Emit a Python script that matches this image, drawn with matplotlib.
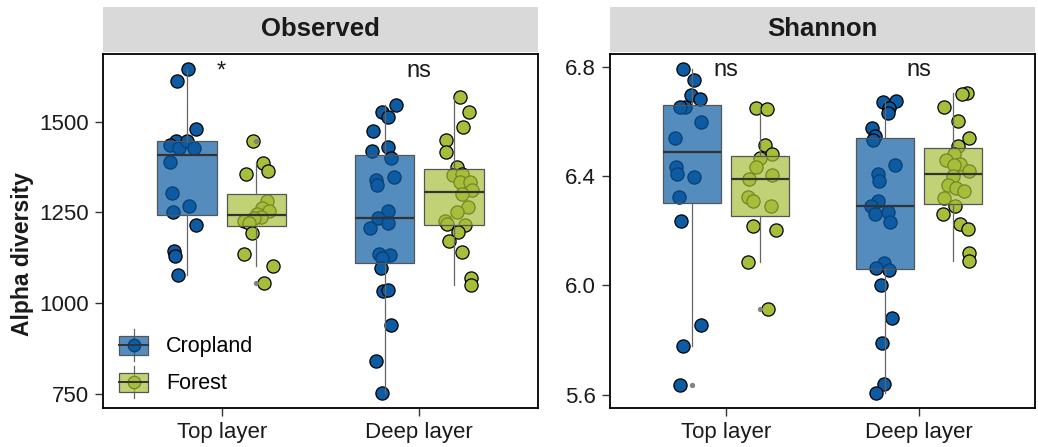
import numpy as np
import matplotlib.pyplot as plt
from matplotlib.colors import to_rgba
from matplotlib.lines import Line2D
from matplotlib.patches import Rectangle
from matplotlib.legend_handler import HandlerBase

plt.rcParams["font.family"] = ["Liberation Sans", "DejaVu Sans"]

LAYERS = ["Top layer", "Deep layer"]
LANDUSE = ["Cropland", "Forest"]
POINT_COL = {"Cropland": "#0d5ba3", "Forest": "#a6bf3a"}

# --- Observed richness; jitter = horizontal offset of each sample within its box
obs_crop_top = [1644, 1613, 1479, 1447, 1435, 1427, 1447, 1426, 1389, 1304,
                1268, 1252, 1215, 1144, 1131, 1078]
obs_crop_top_jit = [0.007, -0.049, 0.044, -0.056, -0.086, -0.040, -0.002, 0.037,
                    -0.086, -0.076, 0.010, -0.069, 0.044, -0.066, -0.061, -0.047]
obs_for_top = [1447, 1385, 1364, 1355, 1281, 1262, 1254, 1246, 1238, 1236,
               1227, 1220, 1194, 1135, 1104, 1055]
obs_for_top_jit = [-0.018, 0.034, 0.061, -0.053, 0.056, 0.030, 0.064, 0.002,
                   0.024, -0.011, -0.062, -0.035, -0.023, -0.060, 0.086, 0.041]
obs_crop_deep = [1547, 1526, 1513, 1474, 1429, 1418, 1400, 1347, 1339, 1325,
                 1254, 1236, 1220, 1208, 1135, 1133, 1124, 1097, 1035, 1038,
                 940, 841, 754]
obs_crop_deep_jit = [0.055, -0.016, 0.018, -0.061, 0.015, -0.066, 0.031, 0.048,
                     -0.046, -0.039, 0.015, -0.036, 0.015, -0.073, -0.029, 0.028,
                     -0.013, -0.019, -0.009, 0.018, 0.031, -0.046, -0.013]
obs_for_deep = [1569, 1526, 1486, 1449, 1416, 1374, 1352, 1355, 1334, 1334,
                1311, 1300, 1265, 1250, 1227, 1218, 1215, 1197, 1172, 1140,
                1070, 1050]
obs_for_deep_jit = [0.030, 0.074, 0.047, -0.040, -0.040, 0.014, -0.007, 0.039,
                    0.030, 0.081, 0.090, 0.042, 0.072, 0.014, -0.046, -0.037,
                    0.056, 0.019, -0.024, 0.042, 0.084, 0.084]

# --- Shannon index
sha_crop_top = [6.790, 6.750, 6.695, 6.680, 6.654, 6.652, 6.597, 6.540, 6.433,
                6.409, 6.396, 6.323, 6.234, 5.856, 5.777, 5.637]
sha_crop_top_jit = [-0.047, 0.010, -0.004, 0.040, -0.038, -0.064, 0.048, -0.086,
                    -0.084, -0.076, 0.010, -0.069, -0.058, 0.048, -0.047, -0.064]
sha_for_top = [6.650, 6.646, 6.514, 6.481, 6.467, 6.433, 6.402, 6.390, 6.323,
               6.308, 6.289, 6.219, 6.204, 6.085, 5.915]
sha_for_top_jit = [-0.018, 0.037, 0.025, 0.065, -0.001, -0.018, 0.065, -0.056,
                   -0.061, -0.035, 0.060, -0.035, 0.085, -0.061, 0.042]
sha_crop_deep = [6.670, 6.673, 6.650, 6.630, 6.577, 6.545, 6.530, 6.442, 6.408,
                 6.381, 6.308, 6.292, 6.268, 6.260, 6.231, 6.083, 6.063, 6.058,
                 6.003, 5.882, 5.790, 5.638, 5.606]
sha_crop_deep_jit = [-0.013, 0.056, 0.018, 0.013, -0.068, -0.054, -0.065, 0.048,
                     -0.039, -0.034, -0.039, -0.074, 0.013, -0.051, 0.022, -0.009,
                     -0.048, 0.018, -0.020, 0.034, -0.018, -0.009, -0.048]
sha_for_deep = [6.703, 6.698, 6.654, 6.600, 6.540, 6.510, 6.480, 6.460, 6.445,
                6.440, 6.418, 6.400, 6.366, 6.358, 6.345, 6.320, 6.290, 6.262,
                6.223, 6.205, 6.120, 6.088]
sha_for_deep_jit = [0.072, 0.045, -0.045, 0.027, 0.081, 0.026, 0.005, -0.036,
                    0.038, 0.005, 0.083, 0.000, -0.026, 0.016, 0.055, -0.047,
                    0.010, -0.053, 0.038, 0.076, 0.084, 0.081]

PANELS = [
    ("Observed",
     {("Top layer", "Cropland"): (obs_crop_top, obs_crop_top_jit),
      ("Top layer", "Forest"): (obs_for_top, obs_for_top_jit),
      ("Deep layer", "Cropland"): (obs_crop_deep, obs_crop_deep_jit),
      ("Deep layer", "Forest"): (obs_for_deep, obs_for_deep_jit)},
     [750, 1000, 1250, 1500], (712, 1686), ["*", "ns"], [1620, 1624]),
    ("Shannon",
     {("Top layer", "Cropland"): (sha_crop_top, sha_crop_top_jit),
      ("Top layer", "Forest"): (sha_for_top, sha_for_top_jit),
      ("Deep layer", "Cropland"): (sha_crop_deep, sha_crop_deep_jit),
      ("Deep layer", "Forest"): (sha_for_deep, sha_for_deep_jit)},
     [5.6, 6.0, 6.4, 6.8], (5.552, 6.846), ["ns", "ns"], [6.764, 6.764]),
]

DODGE = 0.175
BOX_W = 0.30
ALPHA = 0.7


class BoxKey(HandlerBase):
    """legend key that looks like a small boxplot with a point on it"""
    def __init__(self, pcol):
        super().__init__()
        self.pcol = pcol

    def create_artists(self, legend, orig, xd, yd, width, height, fontsize, trans):
        cx = -xd + width / 2
        cy = -yd + height / 2
        bh = height * 0.6
        wl = Line2D([cx, cx], [-yd, -yd + height], color="#666666", lw=0.9,
                    transform=trans)
        box = Rectangle((-xd, cy - bh / 2), width, bh, transform=trans,
                        facecolor=to_rgba(self.pcol, ALPHA), edgecolor="#555555",
                        lw=0.9)
        med = Line2D([-xd, -xd + width], [cy, cy], color="#333333", lw=1.4,
                     transform=trans)
        pt = Line2D([cx], [cy], marker="o", ms=9, mfc=self.pcol, mec="black",
                    mew=0.9, ls="none", transform=trans)
        return [wl, pt, box, med]


fig = plt.figure(figsize=(10.38, 4.47), dpi=100)
W, H = 1038, 447
frames = [(103, 538), (610, 1035)]
top_px, bot_px = 54, 408

for (title, groups, yticks, ylim, marks, mark_y), (x0, x1) in zip(PANELS, frames):
    ax = fig.add_axes([x0 / W, (H - bot_px) / H, (x1 - x0) / W, (bot_px - top_px) / H])
    strip = fig.add_axes([x0 / W, (H - 52) / H, (x1 - x0) / W, 45 / H])
    strip.set_facecolor("#d9d9d9")
    strip.set_xticks([]); strip.set_yticks([])
    for s in strip.spines.values():
        s.set_visible(False)
    strip.text(0.5, 0.5, title, ha="center", va="center", fontsize=18.5,
               fontweight="bold", color="#1a1a1a", transform=strip.transAxes)

    for i, layer in enumerate(LAYERS):
        for j, lu in enumerate(LANDUSE):
            vals, jit = groups[(layer, lu)]
            pos = i + 1 + (-DODGE if lu == "Cropland" else DODGE)
            ax.scatter(pos + np.array(jit), vals, s=90, color=POINT_COL[lu],
                       edgecolor="black", linewidth=0.9, zorder=2)
            ax.boxplot([vals], positions=[pos], widths=BOX_W, patch_artist=True,
                       whis=1.5, showcaps=False, manage_ticks=False, zorder=3,
                       boxprops=dict(facecolor=to_rgba(POINT_COL[lu], ALPHA),
                                     edgecolor="#555555", linewidth=0.9),
                       medianprops=dict(color="#333333", linewidth=1.6),
                       whiskerprops=dict(color="#666666", linewidth=0.9),
                       flierprops=dict(marker="o", markersize=3.8,
                                       markerfacecolor="#808080",
                                       markeredgecolor="none"))
        ax.text(i + 1, mark_y[i], marks[i], ha="center", va="baseline",
                fontsize=17, color="#1a1a1a")

    ax.set_xlim(0.4, 2.6)
    ax.set_ylim(*ylim)
    ax.set_xticks([1, 2])
    ax.set_xticklabels(LAYERS)
    ax.set_yticks(yticks)
    if title == "Shannon":
        ax.set_yticklabels([f"{t:.1f}" for t in yticks])
    ax.tick_params(direction="out", length=6, width=1, color="#333333",
                   labelsize=16, labelcolor="#1a1a1a", pad=4)
    for s in ax.spines.values():
        s.set_linewidth(1.3)
        s.set_color("black")

    if title == "Observed":
        handles = [Rectangle((0, 0), 1, 1, label=lu) for lu in LANDUSE]
        ax.legend(handles=handles, loc="lower left",
                  bbox_to_anchor=(16 / (x1 - x0), 10 / (bot_px - top_px)),
                  frameon=False, fontsize=15.5, handlelength=1.35,
                  handleheight=1.9, labelspacing=0.23, handletextpad=0.85,
                  borderaxespad=0, borderpad=0,
                  handler_map={h: BoxKey(POINT_COL[h.get_label()]) for h in handles})

fig.text(23 / W, (H - 254) / H, "Alpha diversity", rotation=90, ha="center",
         va="center", fontsize=16.5, fontweight="bold", color="#1a1a1a")

fig.savefig("out.png", dpi=100)
